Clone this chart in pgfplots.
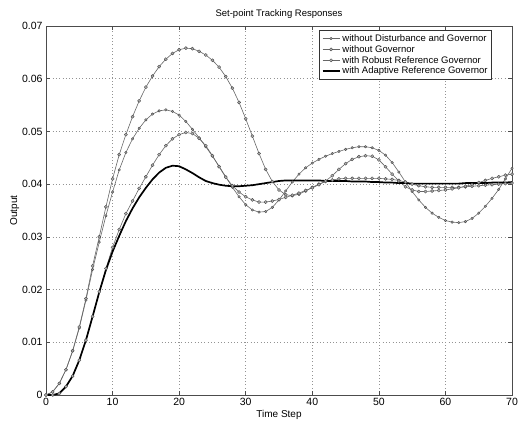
\documentclass[border=0pt]{standalone}
\usepackage{fontspec}
\setmainfont{Liberation Sans}
\usepackage{pgfplots}
\usepackage{pgfplotstable}
\pgfplotsset{compat=1.18}

% t, A = without Governor, B = without Disturbance and Governor,
% C = Robust RG, D = Adaptive RG
\pgfplotstableread{
t A B C D
0 0 0 0 0
1 0.0006 0.0006 0.0000 0.0000
2 0.0022 0.0022 0.0003 0.0003
3 0.0048 0.0048 0.0016 0.0016
4 0.0084 0.0083 0.0036 0.0036
5 0.0129 0.0127 0.0066 0.0066
6 0.0183 0.0180 0.0104 0.0104
7 0.0245 0.0238 0.0149 0.0149
8 0.0300 0.0290 0.0196 0.0195
9 0.0357 0.0340 0.0240 0.0237
10 0.0410 0.0385 0.0280 0.0272
11 0.0456 0.0427 0.0314 0.0302
12 0.0494 0.0460 0.0344 0.0330
13 0.0528 0.0486 0.0368 0.0354
14 0.0558 0.0506 0.0392 0.0375
15 0.0584 0.0522 0.0414 0.0393
16 0.0605 0.0533 0.0436 0.0409
17 0.0623 0.0539 0.0456 0.0422
18 0.0637 0.0541 0.0473 0.0431
19 0.0648 0.0538 0.0486 0.0435
20 0.0655 0.0531 0.0494 0.0434
21 0.0658 0.0519 0.0498 0.0428
22 0.0657 0.0504 0.0496 0.0421
23 0.0652 0.0488 0.0487 0.0413
24 0.0645 0.0471 0.0473 0.0406
25 0.0635 0.0453 0.0454 0.0402
26 0.0622 0.0434 0.0433 0.0399
27 0.0604 0.0414 0.0413 0.0397
28 0.0582 0.0394 0.0397 0.0396
29 0.0555 0.0376 0.0385 0.0396
30 0.0524 0.0361 0.0376 0.0397
31 0.0491 0.0351 0.0370 0.0398
32 0.0458 0.0347 0.0366 0.0400
33 0.0428 0.0348 0.0366 0.0402
34 0.0405 0.0356 0.0368 0.0404
35 0.0389 0.0370 0.0371 0.0406
36 0.0380 0.0387 0.0375 0.0407
37 0.0378 0.0404 0.0379 0.0407
38 0.0381 0.0419 0.0383 0.0407
39 0.0387 0.0431 0.0388 0.0407
40 0.0394 0.0440 0.0393 0.0407
41 0.0400 0.0447 0.0399 0.0407
42 0.0405 0.0453 0.0406 0.0406
43 0.0408 0.0458 0.0416 0.0406
44 0.0410 0.0462 0.0428 0.0406
45 0.0411 0.0466 0.0439 0.0406
46 0.0411 0.0469 0.0447 0.0405
47 0.0411 0.0471 0.0452 0.0405
48 0.0411 0.0471 0.0454 0.0405
49 0.0411 0.0469 0.0453 0.0404
50 0.0411 0.0464 0.0446 0.0404
51 0.0410 0.0455 0.0433 0.0403
52 0.0409 0.0441 0.0419 0.0403
53 0.0407 0.0423 0.0406 0.0402
54 0.0404 0.0404 0.0395 0.0402
55 0.0400 0.0386 0.0389 0.0401
56 0.0397 0.0370 0.0386 0.0401
57 0.0395 0.0356 0.0386 0.0401
58 0.0394 0.0345 0.0387 0.0401
59 0.0394 0.0337 0.0388 0.0401
60 0.0394 0.0331 0.0389 0.0401
61 0.0394 0.0328 0.0391 0.0401
62 0.0394 0.0327 0.0393 0.0401
63 0.0395 0.0329 0.0396 0.0402
64 0.0396 0.0335 0.0399 0.0402
65 0.0397 0.0345 0.0403 0.0402
66 0.0398 0.0358 0.0407 0.0402
67 0.0399 0.0373 0.0411 0.0403
68 0.0400 0.0390 0.0414 0.0403
69 0.0401 0.0410 0.0417 0.0403
70 0.0402 0.0430 0.0419 0.0404
}\resp

\begin{document}
\begin{tikzpicture}
\path[use as bounding box] (-46pt,-28pt) rectangle (472pt,395pt);
\begin{axis}[
  scale only axis,
  width=466pt, height=369pt,
  xmin=0, xmax=70, ymin=0, ymax=0.07,
  xtick={0,10,...,70},
  ytick={0,0.01,0.02,0.03,0.04,0.05,0.06,0.07},
  yticklabels={0,0.01,0.02,0.03,0.04,0.05,0.06,0.07},
  scaled y ticks=false,
  tick align=inside, major tick length=4pt,
  xtick pos=both, ytick pos=both,
  grid=major, grid style={gray!85, line width=0.6pt, dash pattern=on 0.7pt off 2.6pt},
  axis line style={black!70, line width=0.7pt},
  tick style={black!70, line width=0.6pt},
  ticklabel style={font=\fontsize{10.5}{12}\selectfont},
  /pgf/number format/assume math mode=true,
  title={Set-point Tracking Responses},
  title style={font=\fontsize{9.5}{11}\selectfont, yshift=-2pt},
  xlabel={Time Step},
  ylabel={Output},
  label style={font=\fontsize{10}{12}\selectfont},
  xlabel style={yshift=3pt},
  ylabel style={yshift=-4pt},
  legend style={at={(0.957,0.989)}, anchor=north east,
    font=\fontsize{9.5}{11}\selectfont, draw=black!80, line width=0.6pt,
    row sep=-1.5pt, inner sep=2pt, cells={anchor=west}},
  legend cell align=left,
  every axis plot/.append style={line join=round},
]
\addplot[black!60, line width=0.6pt, mark=*, mark size=1.3pt,
  mark options={fill=gray!75, draw=black!70, line width=0.4pt}]
  table[x=t, y=B] {\resp};
\addlegendentry{without Disturbance and Governor}
\addplot[black!60, line width=0.6pt, mark=*, mark size=1.6pt,
  mark options={fill=gray!65, draw=black!70, line width=0.4pt}]
  table[x=t, y=A] {\resp};
\addlegendentry{without Governor}
\addplot[black!60, line width=0.6pt, mark=*, mark size=1.6pt,
  mark options={fill=gray!60, draw=black!70, line width=0.4pt}]
  table[x=t, y=C] {\resp};
\addlegendentry{with Robust Reference Governor}
\addplot[black, line width=1.7pt] table[x=t, y=D] {\resp};
\addlegendentry{with Adaptive Reference Governor}
\end{axis}
\end{tikzpicture}
\end{document}
